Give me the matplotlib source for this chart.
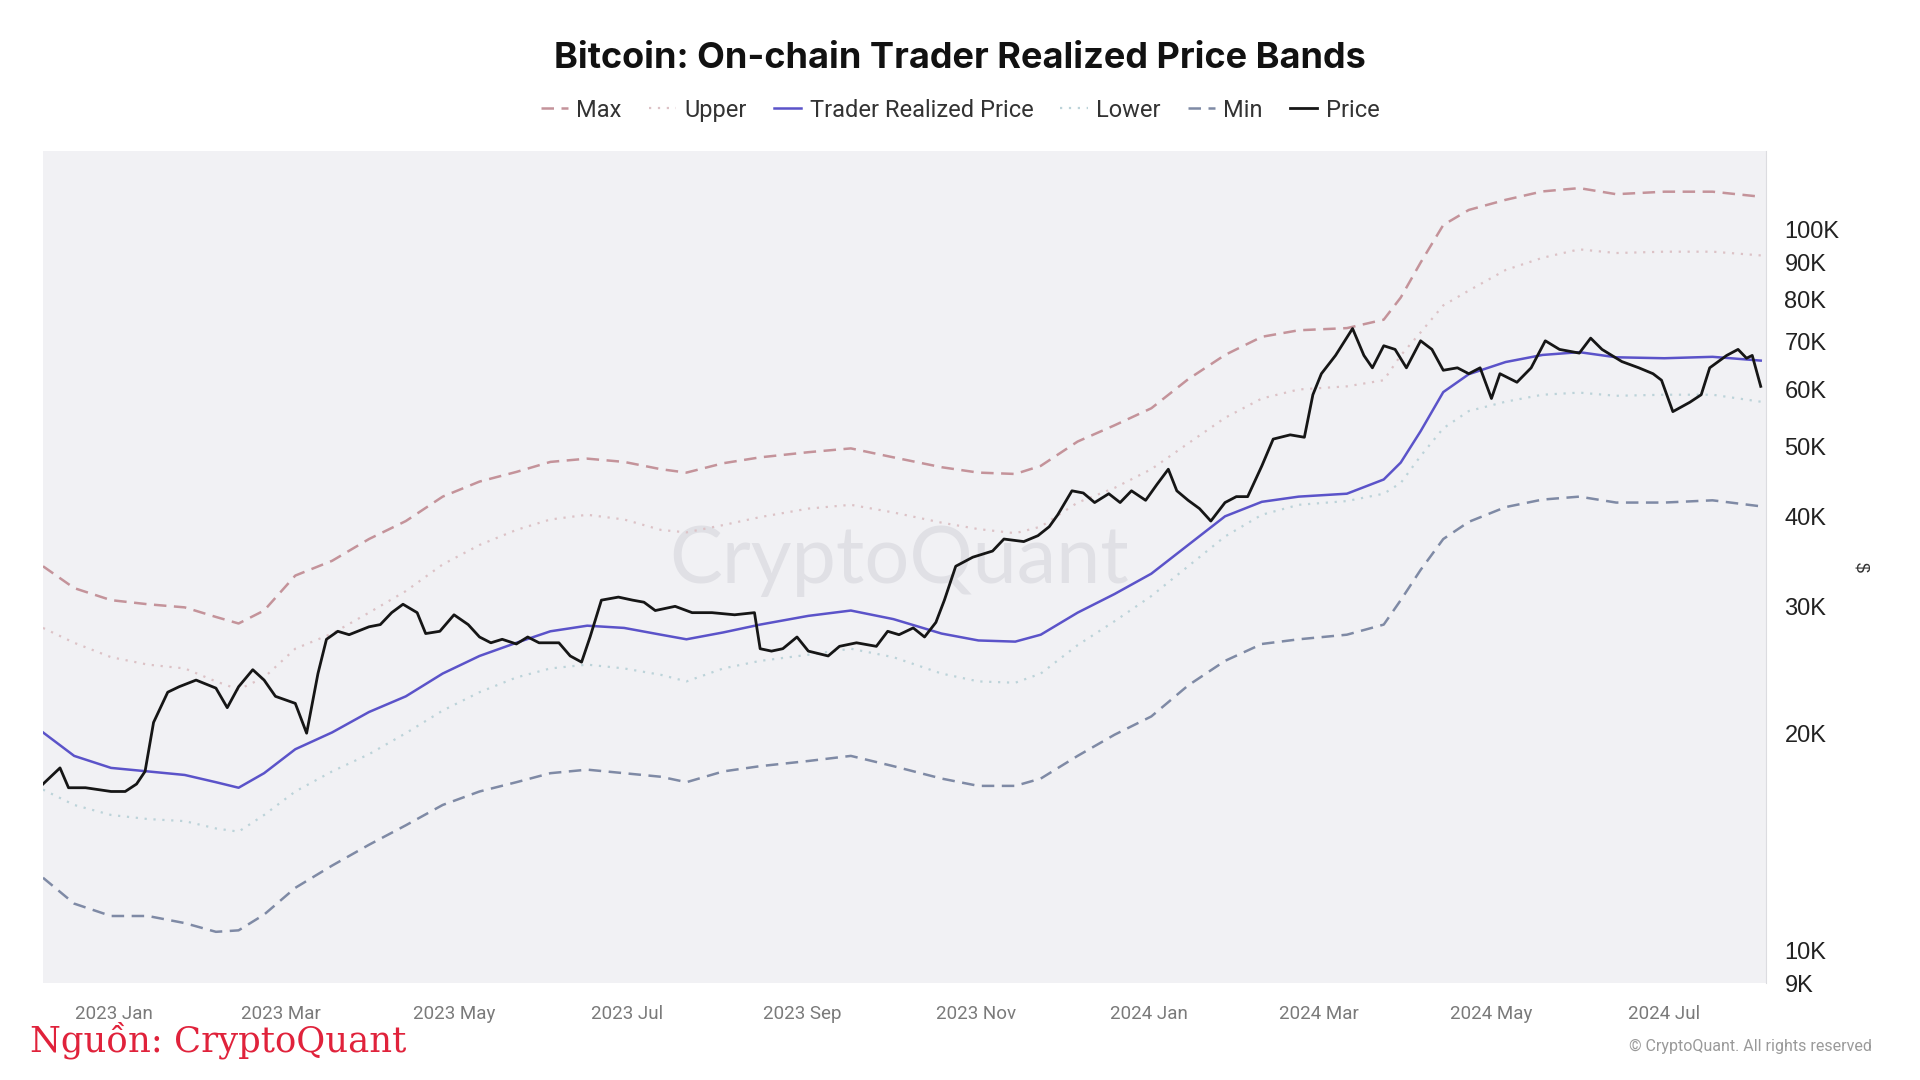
import matplotlib
matplotlib.use("Agg")
import matplotlib.pyplot as plt
import pandas as pd

# days counted from 2023-01-01
band_days = [-25, -14, -1, 12, 25, 36, 44, 53, 64, 77, 90, 103, 116, 129, 142, 154,
             167, 180, 193, 202, 215, 228, 245, 260, 275, 292, 305, 318, 327, 340,
             353, 366, 379, 392, 405, 418, 435, 448, 454, 461, 469, 478, 491, 504,
             517, 530, 547, 564, 581]

max_band = [34.1, 31.8, 30.6, 30.2, 29.9, 29.0, 28.4, 29.6, 33.1, 34.7, 37.2, 39.4,
            42.6, 44.7, 46.1, 47.6, 48.1, 47.6, 46.5, 46.0, 47.4, 48.3, 49.1, 49.7,
            48.3, 46.8, 46.0, 45.8, 47.0, 50.8, 53.5, 56.5, 62.0, 67.0, 71.0, 72.5,
            73.0, 75.0, 80.5, 90.0, 101.5, 106.5, 110.0, 113.0, 114.2, 112.0, 112.9,
            112.9, 111.1]

upper_band = [28.0, 26.7, 25.5, 24.9, 24.6, 23.6, 23.0, 23.9, 26.2, 27.5, 29.4, 31.5,
              34.3, 36.5, 38.3, 39.6, 40.2, 39.6, 38.3, 38.0, 38.9, 39.9, 41.0, 41.5,
              40.5, 39.2, 38.4, 37.9, 38.7, 41.8, 43.8, 46.5, 50.5, 54.8, 58.3, 60.0,
              60.6, 61.8, 66.9, 72.0, 78.5, 82.3, 87.9, 91.4, 93.9, 92.8, 93.2, 93.2,
              92.1]

trader_price = [20.05, 18.6, 17.9, 17.7, 17.5, 17.1, 16.8, 17.6, 19.0, 20.05, 21.4,
                22.5, 24.2, 25.6, 26.7, 27.7, 28.2, 28.0, 27.4, 27.0, 27.6, 28.3, 29.1,
                29.6, 28.8, 27.5, 26.9, 26.8, 27.4, 29.4, 31.2, 33.3, 36.5, 40.0, 41.9,
                42.6, 43.0, 45.0, 47.5, 52.5, 59.5, 63.0, 65.5, 67.0, 67.6, 66.5, 66.3,
                66.6, 65.8]

lower_band = [16.7, 15.9, 15.4, 15.2, 15.1, 14.75, 14.6, 15.4, 16.6, 17.7, 18.7, 20.0,
              21.5, 22.8, 23.9, 24.6, 24.9, 24.6, 24.1, 23.6, 24.6, 25.2, 25.7, 26.2,
              25.5, 24.2, 23.6, 23.5, 24.2, 26.5, 28.6, 31.0, 34.1, 37.5, 40.2, 41.5,
              42.0, 43.0, 44.5, 48.5, 53.0, 56.0, 57.7, 59.0, 59.4, 58.8, 59.0, 59.0,
              57.7]

min_band = [12.6, 11.6, 11.15, 11.15, 10.9, 10.6, 10.65, 11.2, 12.2, 13.1, 14.0, 14.9,
            15.9, 16.6, 17.1, 17.6, 17.8, 17.6, 17.4, 17.1, 17.7, 18.0, 18.3, 18.6,
            18.0, 17.3, 16.9, 16.9, 17.3, 18.6, 19.9, 21.1, 23.3, 25.2, 26.6, 27.0,
            27.4, 28.3, 30.6, 33.7, 37.2, 39.3, 41.2, 42.2, 42.6, 41.8, 41.8, 42.1,
            41.3]

price_days = [-25, -19, -16, -10, -1, 4, 8, 11, 14, 19, 23, 29, 36, 40, 44, 49, 53, 57,
              64, 68, 72, 75, 79, 83, 90, 94, 98, 102, 107, 110, 115, 120, 125, 129,
              133, 137, 142, 146, 150, 157, 161, 165, 168, 172, 178, 183, 187, 191,
              198, 204, 211, 219, 226, 228, 232, 236, 241, 245, 252, 256, 262, 269,
              273, 277, 282, 286, 290, 293, 297, 303, 310, 314, 321, 326, 330, 333,
              338, 342, 346, 351, 355, 359, 364, 368, 372, 375, 379, 383, 387, 392,
              396, 400, 405, 409, 415, 420, 423, 426, 431, 437, 441, 444, 448, 452,
              456, 461, 465, 469, 474, 478, 482, 486, 489, 495, 500, 505, 510, 517,
              521, 525, 532, 538, 543, 546, 550, 556, 560, 563, 569, 573, 576, 578,
              581]

price = [17.0, 17.9, 16.8, 16.8, 16.6, 16.6, 17.0, 17.7, 20.7, 22.8, 23.2, 23.7, 23.1,
         21.7, 23.2, 24.5, 23.7, 22.5, 22.0, 20.0, 24.2, 27.0, 27.7, 27.4, 28.1, 28.3,
         29.4, 30.2, 29.4, 27.5, 27.7, 29.2, 28.3, 27.2, 26.7, 27.0, 26.6, 27.2, 26.7,
         26.7, 25.6, 25.1, 27.2, 30.6, 30.9, 30.6, 30.4, 29.6, 30.0, 29.4, 29.4, 29.2,
         29.4, 26.2, 26.0, 26.2, 27.2, 26.0, 25.6, 26.4, 26.7, 26.4, 27.7, 27.4, 28.0,
         27.2, 28.5, 30.6, 34.1, 35.1, 35.8, 37.2, 36.9, 37.6, 38.7, 40.2, 43.4, 43.1,
         41.8, 43.0, 41.8, 43.4, 42.1, 44.3, 46.5, 43.4, 42.1, 41.0, 39.4, 41.8, 42.6,
         42.6, 47.0, 51.2, 51.9, 51.5, 59.0, 63.1, 66.9, 72.9, 66.9, 64.3, 69.0, 68.2,
         64.3, 70.1, 68.2, 63.8, 64.3, 63.1, 64.3, 58.3, 63.1, 61.4, 64.3, 70.1, 68.2,
         67.4, 70.7, 68.2, 65.6, 64.3, 63.1, 61.8, 55.9, 57.6, 59.0, 64.3, 66.9, 68.2,
         66.3, 66.9, 60.6]

ytick_vals = [9, 10, 20, 30, 40, 50, 60, 70, 80, 90, 100]
ytick_labels = ["9K", "10K", "20K", "30K", "40K", "50K", "60K", "70K", "80K", "90K", "100K"]
xtick_dates = ["2023-01-01", "2023-03-01", "2023-05-01", "2023-07-01", "2023-09-01",
               "2023-11-01", "2024-01-01", "2024-03-01", "2024-05-01", "2024-07-01"]
xtick_labels = ["2023 Jan", "2023 Mar", "2023 May", "2023 Jul", "2023 Sep",
                "2023 Nov", "2024 Jan", "2024 Mar", "2024 May", "2024 Jul"]

start = pd.Timestamp("2023-01-01")
band_dates = start + pd.to_timedelta(band_days, unit="D")
price_dates = start + pd.to_timedelta(price_days, unit="D")


def k(values):
    return [v * 1000 for v in values]


fig = plt.figure(figsize=(19.2, 10.8), dpi=100)
ax = fig.add_axes([0.0224, 0.0898, 0.8976, 0.7702])
ax.set_facecolor("#f1f1f4")

ax.plot(band_dates, k(max_band), color="#c4939a", lw=1.8, ls=(0, (5, 3)), label="Max")
ax.plot(band_dates, k(upper_band), color="#dcc2c6", lw=1.6, ls=(0, (1, 3)), label="Upper")
ax.plot(band_dates, k(trader_price), color="#5b53c9", lw=1.8, label="Trader Realized Price")
ax.plot(band_dates, k(lower_band), color="#bcd3d9", lw=1.6, ls=(0, (1, 3)), label="Lower")
ax.plot(band_dates, k(min_band), color="#7f8aa5", lw=1.8, ls=(0, (5, 3)), label="Min")
ax.plot(price_dates, k(price), color="#161616", lw=2.0, label="Price")

ax.set_yscale("log")
ax.set_ylim(9000, 128500)
ax.set_xlim(pd.Timestamp("2022-12-07"), pd.Timestamp("2023-01-01") + pd.Timedelta(days=583))

ax.yaxis.tick_right()
ax.set_yticks(k(ytick_vals))
ax.set_yticklabels(ytick_labels, fontsize=17, family="Liberation Sans", color="#222222")
ax.yaxis.set_minor_locator(matplotlib.ticker.NullLocator())
ax.tick_params(axis="y", length=0, pad=13)
for t in ax.get_yticklabels():
    t.set_horizontalalignment("left")

ax.set_xticks(pd.to_datetime(xtick_dates))
ax.set_xticklabels(xtick_labels, fontsize=13.5, family="Roboto", color="#7a7a7a")
ax.tick_params(axis="x", length=0, pad=16)

for side in ["top", "left", "bottom"]:
    ax.spines[side].set_visible(False)
ax.spines["right"].set_color("#dcdce0")

fig.text(0.969, 0.475, "$", rotation=270, fontsize=13, color="#333333",
         ha="center", va="center", family="Liberation Sans")

# watermark
ax.text(0.497, 0.507, "CryptoQuant", transform=ax.transAxes, fontsize=57,
        color="#e0e0e5", ha="center", va="center", family="Lato", zorder=0)

fig.text(0.5, 0.946, "Bitcoin: On-chain Trader Realized Price Bands", ha="center",
         va="center", fontsize=26, fontweight="bold", family="Inter", color="#111111")

fig.legend(loc="center", bbox_to_anchor=(0.5, 0.898), ncol=6, frameon=False,
           prop={"family": "Roboto", "size": 17}, handlelength=1.15,
           columnspacing=1.15, handletextpad=0.36, labelcolor="#333333")

fig.text(0.0156, 0.026, "Nguồn: CryptoQuant", fontsize=25.5, color="#e0223b",
         family="DejaVu Serif", ha="left", va="baseline")
fig.text(0.975, 0.031, "© CryptoQuant. All rights reserved", fontsize=11.5,
         color="#9a9a9a", family="Roboto", ha="right", va="center")

fig.savefig("out.png", dpi=100, facecolor="white")
